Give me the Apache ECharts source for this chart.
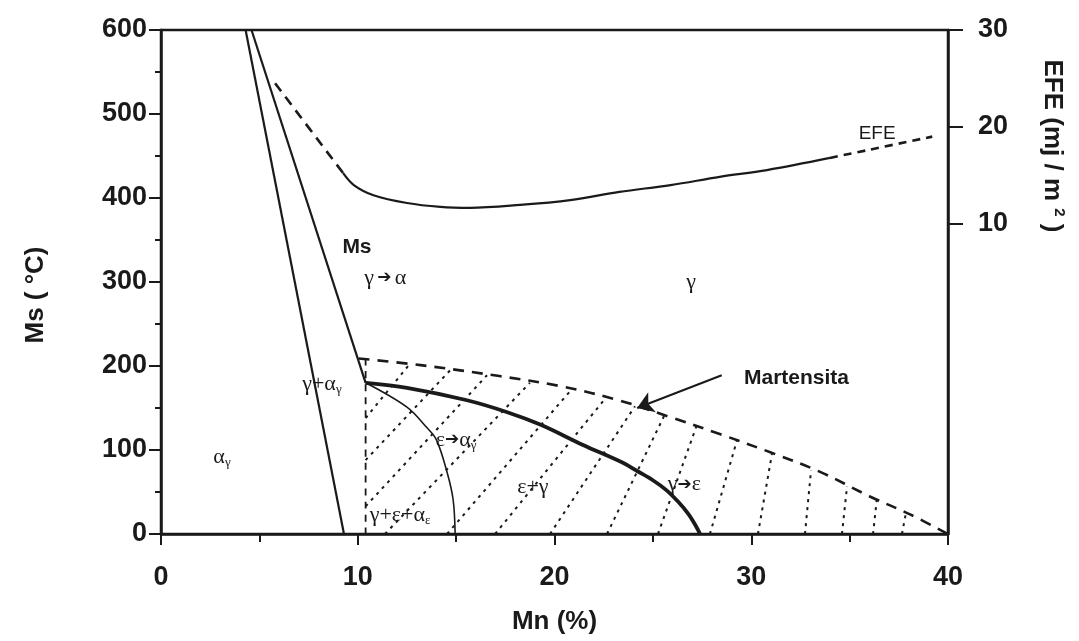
<!DOCTYPE html>
<html>
<head>
<meta charset="utf-8">
<script src="https://cdn.jsdelivr.net/npm/echarts@6/dist/echarts.min.js"></script>
<style>
  html, body { margin: 0; padding: 0; background: #fff; }
  #chart { width: 1079px; height: 641px; }
</style>
</head>
<body>
<div id="chart"></div>
<script>
// ---- data (Mn % , Ms °C) ----
var lineA = [[4.3, 600], [9.3, 0]];                 // alpha / gamma+alpha boundary
var lineB = [[4.6, 600], [10.4, 180]];              // Ms gamma -> alpha
var msGammaEps = [[10.4, 180], [12.5, 174], [15.5, 159.5], [17.6, 145], [19.3, 130], [21.45, 106],
                  [23.5, 84.5], [24.2, 75], [25.0, 64], [25.7, 52], [26.3, 38], [26.8, 24], [27.15, 11], [27.4, 0]];
var epsAlpha = [[10.4, 180], [12.5, 151], [13.5, 127], [14.0, 112], [14.55, 72.6], [14.85, 40.5], [14.95, 0]];
var martUpper = [[10.05, 209], [13.2, 201], [17.2, 188], [20.3, 176], [23.3, 159], [25.9, 139],
                 [28.4, 119], [31.0, 97], [33.5, 74], [36.0, 45], [38.1, 23], [40, 0]];
var martLeft = [[10.4, 209], [10.4, 0]];

// hatch lines inside the martensite field: [start, end]
var hatch = [
  [[10.4, 138], [12.7, 204]], [[10.4, 88], [14.74, 196]], [[10.4, 33], [16.57, 189]],
  [[11.38, 0], [18.75, 180]], [[14.54, 0], [20.79, 170]], [[16.98, 0], [22.57, 161]],
  [[19.77, 0], [24.09, 152]], [[22.67, 0], [25.62, 143]], [[25.26, 0], [27.24, 130]],
  [[27.90, 0], [29.28, 112]], [[30.34, 0], [31.05, 95]], [[32.73, 0], [33.04, 76]],
  [[34.61, 0], [34.87, 57]], [[36.19, 0], [36.39, 43]], [[37.66, 0], [37.87, 26]]
];

// EFE (mJ/m2) on the right axis
var efeDashA = [[5.8, 24.5], [9.25, 15.25]];
var efeSolid = [[9.25, 15.25], [9.8, 14.0], [10.8, 12.95], [12.5, 12.15], [14.2, 11.75], [15.7, 11.65],
                [18.25, 11.95], [20.8, 12.45], [23.3, 13.3], [25.9, 14.0], [28.4, 14.85], [30.8, 15.55], [34.0, 16.8]];
var efeDashB = [[34.0, 16.8], [35.9, 17.6], [39.2, 19.0]];

var martArrow = [[28.5, 189], [24.2, 150]];

var xTicks = [0, 10, 20, 30, 40];
var efeTicks = [10, 20, 30];

// region labels
var labelPos = [[9.96, 342], [11.4, 305], [26.94, 300], [32.3, 186], [36.4, 477],
                [8.18, 178], [3.1, 92], [15.0, 112], [12.15, 22], [18.9, 56], [26.6, 59]];
var labelText = ['{b|Ms}', '{g|γ} {ar|➔} {g|α}', '{g|γ}', '{b|Martensita}', '{e|EFE}',
                 '{g|γ+α}{s|γ}', '{g|α}{s|γ}', '{g|ε}{ar|➔}{g|α}{s|γ}', '{g|γ+ε+α}{s|ε}', '{g|ε+γ}', '{g|γ}{ar|➔}{g|ε}'];

var ink = '#1a1a1a';
var sans = 'Liberation Sans, Arial, sans-serif';
var serif = 'Liberation Serif, DejaVu Serif, serif';

var rich = {
  b: { fontFamily: sans, fontWeight: 'bold', fontSize: 21, color: ink, lineHeight: 24 },
  e: { fontFamily: sans, fontSize: 19, color: ink, lineHeight: 24 },
  g: { fontFamily: serif, fontSize: 22, color: ink, lineHeight: 24 },
  s: { fontFamily: serif, fontSize: 13, color: ink, lineHeight: 12, verticalAlign: 'bottom' },
  ar: { fontFamily: 'DejaVu Sans', fontSize: 17, color: ink, lineHeight: 24 }
};

function curve(data, width, type, yIdx) {
  return {
    type: 'line', data: data, yAxisIndex: yIdx || 0, symbol: 'none', smooth: 0.35,
    lineStyle: { color: ink, width: width, type: type || 'solid' }, silent: true
  };
}

var chart = echarts.init(document.getElementById('chart'), null, { renderer: 'canvas' });

var option = {
  backgroundColor: '#ffffff',
  animation: false,
  grid: { left: 161, right: 131, top: 30, bottom: 107, show: true, borderColor: ink, borderWidth: 2.5 },
  xAxis: {
    type: 'value', min: 0, max: 40, interval: 10,
    name: 'Mn (%)', nameLocation: 'middle', nameGap: 75,
    nameTextStyle: { fontFamily: sans, fontWeight: 'bold', fontSize: 26, color: ink },
    axisLine: { lineStyle: { color: ink, width: 2.5 } },
    axisTick: { length: 11, lineStyle: { color: ink, width: 2 } },
    minorTick: { show: true, splitNumber: 2, length: 8, lineStyle: { color: ink, width: 2 } },
    splitLine: { show: false },
    axisLabel: { fontFamily: sans, fontWeight: 'bold', fontSize: 27, color: ink, margin: 30,
      customValues: xTicks }
  },
  yAxis: [{
    type: 'value', min: 0, max: 600, interval: 100, position: 'left',
    name: 'Ms ( °C)', nameLocation: 'middle', nameGap: 112, nameRotate: 90,
    nameTextStyle: { fontFamily: sans, fontWeight: 'bold', fontSize: 26, color: ink, padding: [0, 26, 0, 0] },
    axisLine: { show: true, lineStyle: { color: ink, width: 2.5 } },
    axisTick: { length: 12, lineStyle: { color: ink, width: 2 } },
    minorTick: { show: true, splitNumber: 2, length: 6, lineStyle: { color: ink, width: 2 } },
    splitLine: { show: false },
    axisLabel: { fontFamily: sans, fontWeight: 'bold', fontSize: 27, color: ink, margin: 14 }
  }, {
    type: 'value', min: -22, max: 30, position: 'right',
    axisLine: { show: true, lineStyle: { color: ink, width: 2.5 } },
    axisTick: { show: true, length: 15, customValues: efeTicks, lineStyle: { color: ink, width: 2 } },
    splitLine: { show: false },
    axisLabel: { fontFamily: sans, fontWeight: 'bold', fontSize: 27, color: ink, margin: 30,
      customValues: efeTicks }
  }],
  graphic: [{
    type: 'text', x: 1052, y: 146, rotation: -Math.PI / 2,
    style: {
      text: '{t|EFE (mj / m }{p|2}{t| )}',
      rich: {
        t: { fontFamily: sans, fontWeight: 'bold', fontSize: 26, fill: ink, lineHeight: 30 },
        p: { fontFamily: sans, fontWeight: 'bold', fontSize: 15, fill: ink, lineHeight: 15, verticalAlign: 'top' }
      },
      align: 'center', verticalAlign: 'middle'
    }
  }],
  series: [
    curve(lineA, 2.2),
    curve(lineB, 2.2),
    curve(msGammaEps, 3.8),
    curve(epsAlpha, 1.6),
    curve(martUpper, 2.6, [11, 8]),
    curve(martLeft, 1.8, [7, 6]),
    {
      type: 'lines', coordinateSystem: 'cartesian2d', silent: true,
      lineStyle: { color: ink, width: 2, type: [3, 5], opacity: 1 },
      data: hatch.map(function (h) { return { coords: h }; })
    },
    curve(efeDashA, 2.6, [10, 7], 1),
    curve(efeSolid, 2.2, 'solid', 1),
    curve(efeDashB, 2.6, [8, 6], 1),
    {
      type: 'lines', coordinateSystem: 'cartesian2d', silent: true,
      symbol: ['none', 'arrow'], symbolSize: [0, 16],
      lineStyle: { color: ink, width: 2, opacity: 1 },
      data: [{ coords: martArrow }]
    },
    {
      type: 'scatter', symbolSize: 0, silent: true,
      itemStyle: { opacity: 1 },
      data: labelPos.map(function (p, i) {
        return { value: p, label: { show: true, position: 'inside', opacity: 1, color: ink,
          formatter: labelText[i], rich: rich } };
      })
    }
  ]
};

chart.setOption(option);
</script>
</body>
</html>
